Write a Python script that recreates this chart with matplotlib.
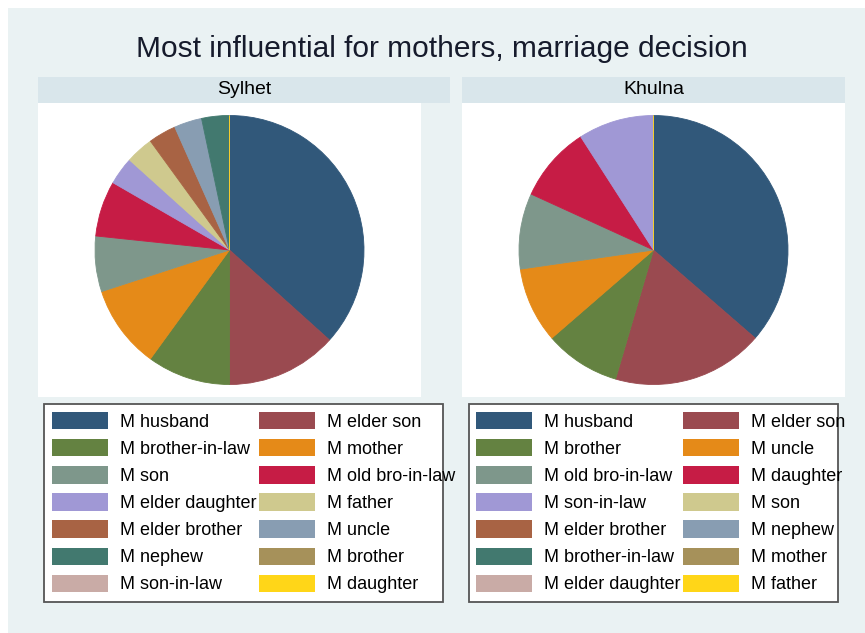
import matplotlib
matplotlib.use("Agg")
import matplotlib.pyplot as plt
from matplotlib.patches import Rectangle, Patch

plt.rcParams['font.family'] = ['Liberation Sans', 'DejaVu Sans']

title = "Most influential for mothers, marriage decision"
regions = ["Sylhet", "Khulna"]

sylhet_labels = ["M husband", "M elder son", "M brother-in-law", "M mother", "M son",
                 "M old bro-in-law", "M elder daughter", "M father", "M elder brother",
                 "M uncle", "M nephew", "M brother", "M son-in-law", "M daughter"]
sylhet_values = [11, 4, 3, 3, 2, 2, 1, 1, 1, 1, 1, 0, 0, 0]

khulna_labels = ["M husband", "M elder son", "M brother", "M uncle", "M old bro-in-law",
                 "M daughter", "M son-in-law", "M son", "M elder brother", "M nephew",
                 "M brother-in-law", "M mother", "M elder daughter", "M father"]
khulna_values = [4, 2, 1, 1, 1, 1, 1, 0, 0, 0, 0, 0, 0, 0]

colors = ["#31587A", "#9A4A50", "#648241", "#E58A18", "#7E978B", "#C61C45", "#A098D5",
          "#CFC98E", "#A86344", "#889DB2", "#42796F", "#A6915A", "#C9ABA6", "#FFD618"]

W, H = 865, 633
def fx(p): return p / W
def fy(p): return 1 - p / H

fig = plt.figure(figsize=(8.65, 6.33), dpi=100)
fig.patch.set_facecolor('white')
fig.patches.append(Rectangle((fx(8), 0), 1 - fx(8), fy(8), transform=fig.transFigure,
                             facecolor='#EAF2F3', edgecolor='none', zorder=-2))
fig.text(fx(442), fy(49), title, ha='center', va='center', fontsize=21.5, color='#161b2c')

panels = [
    dict(labels=sylhet_labels, values=sylhet_values, px0=38, px1=421, sx1=450, lx0=44, lx1=443, sw=52),
    dict(labels=khulna_labels, values=khulna_values, px0=462, px1=845, sx1=845, lx0=469, lx1=838, sw=476),
]

for name, p in zip(regions, panels):
    # strip
    fig.patches.append(Rectangle((fx(p['px0']), fy(103)), (p['sx1'] - p['px0']) / W, 26 / H,
                                 transform=fig.transFigure, facecolor='#D9E6EB',
                                 edgecolor='none', zorder=-1))
    fig.text(fx((p['px0'] + p['sx1']) / 2), fy(90), name, ha='center', va='center',
             fontsize=14, color='black', zorder=2)
    # pie
    ax = fig.add_axes([fx(p['px0']), fy(397), (p['px1'] - p['px0']) / W, 294 / H])
    ax.set_zorder(2)
    ax.set_facecolor('white')
    ax.pie(p['values'], colors=colors, startangle=90, counterclock=False, radius=1,
           wedgeprops=dict(linewidth=0.6), frame=True)
    for w, c in zip(ax.patches, colors):
        w.set_edgecolor(c)
    ax.set_aspect('auto')
    r_px = 134.5
    ax.set_xlim(-(p['px1'] - p['px0']) / 2 / r_px, (p['px1'] - p['px0']) / 2 / r_px)
    ax.set_ylim(-147 / r_px, 147 / r_px)
    ax.set_xticks([]); ax.set_yticks([])
    for s in ax.spines.values():
        s.set_visible(False)
    # legend frame
    fig.patches.append(Rectangle((fx(p['lx0']), fy(602)), (p['lx1'] - p['lx0']) / W, 198 / H,
                                 transform=fig.transFigure, facecolor='white',
                                 edgecolor='#555555', linewidth=1.3, zorder=1))
    handles = [Patch(facecolor=c, edgecolor='none') for c in colors]
    labs = p['labels']
    order = list(range(0, 14, 2)) + list(range(1, 14, 2))
    leg = fig.legend([handles[i] for i in order], [labs[i] for i in order],
                     loc='upper left', bbox_to_anchor=(fx(p['sw']), fy(412)),
                     ncol=2, frameon=False, fontsize=13, borderpad=0, borderaxespad=0,
                     handlelength=3.1, handleheight=1.1, handletextpad=0.65,
                     labelspacing=0.46, columnspacing=0.15)
    leg.set_zorder(3)

fig.savefig("out.png", dpi=100, facecolor=fig.get_facecolor())
